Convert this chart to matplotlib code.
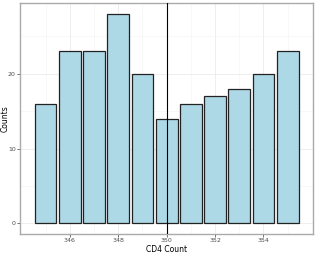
import matplotlib
matplotlib.use("Agg")
import matplotlib.pyplot as plt

cd4 = [345, 346, 347, 348, 349, 350, 351, 352, 353, 354, 355]
counts = [16, 23, 23, 28, 20, 14, 16, 17, 18, 20, 23]
xticks = [346, 348, 350, 352, 354]
yticks = [0, 10, 20]
vline_x = 350

fig = plt.figure(figsize=(3.15, 2.56), dpi=100)
ax = fig.add_axes([0.064, 0.086, 0.930, 0.902])

ax.bar(cd4, counts, width=0.9, color="#ADD8E6", edgecolor="#222222", linewidth=0.9, zorder=3)
ax.axvline(vline_x, color="black", linewidth=0.8, zorder=4)

ax.set_xlim(343.95, 356.05)
ax.set_ylim(-1.4, 29.4)
ax.set_xticks(xticks)
ax.set_yticks(yticks)
ax.set_xticks([345, 347, 349, 351, 353, 355], minor=True)
ax.set_yticks([5, 15, 25], minor=True)
ax.grid(which="major", color="#EBEBEB", linewidth=0.6, zorder=0)
ax.grid(which="minor", color="#F4F4F4", linewidth=0.4, zorder=0)
ax.tick_params(which="major", labelsize=4.5, labelcolor="#4D4D4D", color="#333333", length=2, width=0.5, pad=1.2)
ax.tick_params(which="minor", length=0)
for s in ax.spines.values():
    s.set_color("#AAAAAA")
    s.set_linewidth(1.0)

ax.set_xlabel("CD4 Count", fontsize=5.5, labelpad=1)
ax.set_ylabel("Counts", fontsize=5.5)
ax.yaxis.set_label_coords(-0.035, 0.5)

fig.savefig("out.png", dpi=100)
